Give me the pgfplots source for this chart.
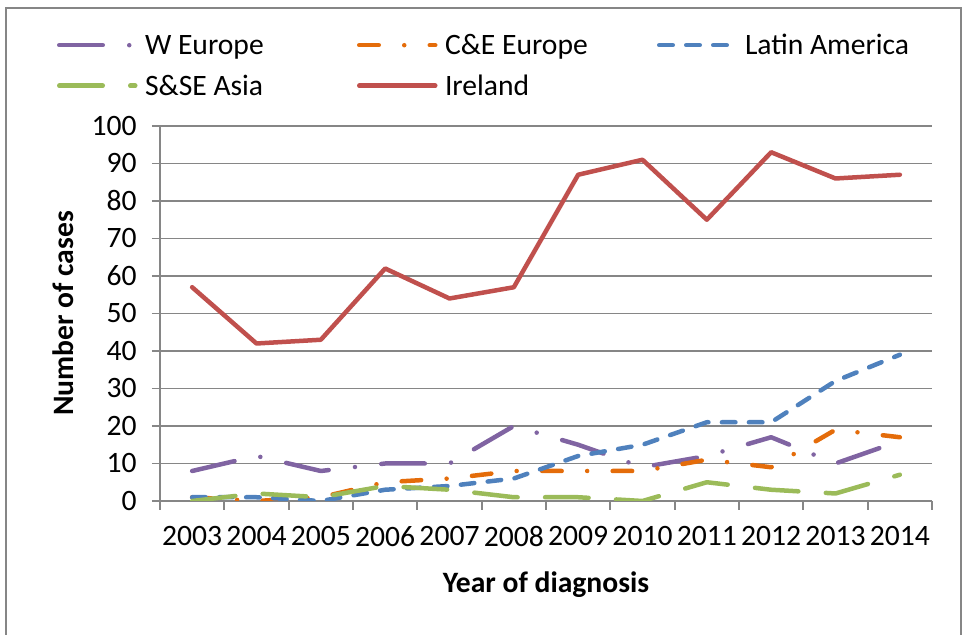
\documentclass[border=0pt]{standalone}
\usepackage{pgfplots}
\pgfplotsset{compat=1.18}
\usepackage{fontspec}
\setmainfont{Carlito}
\definecolor{cpurple}{HTML}{8064A2}
\definecolor{corange}{HTML}{E46C0A}
\definecolor{cblue}{HTML}{4F81BD}
\definecolor{cgreen}{HTML}{9BBB59}
\definecolor{cred}{HTML}{C0504D}
\definecolor{gridgray}{HTML}{868686}
\begin{document}
\fontsize{14.8pt}{17.8pt}\selectfont
\begin{tikzpicture}[x=1pt,y=1pt]
\useasboundingbox (-80,-67) rectangle (402.5,250.5);
\draw[color=gridgray, line width=0.75pt] (-77,-70) -- (-77,246.5) -- (400.5,246.5) -- (400.5,-70);
\begin{axis}[
  at={(0,0)}, anchor=south west,
  scale only axis, width=386pt, height=187.5pt,
  xmin=-0.5, xmax=11.5, ymin=0, ymax=100,
  separate axis lines,
  axis x line*=bottom, axis y line*=left,
  axis line style={-, draw=gridgray, line width=0.9pt},
  ytick={0,10,...,100},
  ymajorgrids, grid style={draw=gridgray, line width=0.9pt},
  xtick={0,...,11},
  xticklabels={2003,2004,2005,2006,2007,2008,2009,2010,2011,2012,2013,2014},
  minor xtick={-0.5,0.5,...,11.5},
  tick align=outside,
  major tick length=4pt,
  minor tick length=4.5pt,
  tick style={draw=gridgray, line width=0.9pt},
  major x tick style={draw=none},
  /pgf/number format/assume math mode=true,
  tick label style={font=\fontsize{14.8pt}{17.8pt}\selectfont, inner sep=0pt},
  yticklabel style={xshift=-7.5pt},
  xticklabel style={yshift=-8.5pt},
  xlabel={\bfseries Year of diagnosis},
  ylabel={\bfseries Number of cases},
  every axis x label/.style={at={(rel axis cs:0.5,-0.2427)}, anchor=base, font=\fontsize{14.8pt}{17.8pt}\selectfont},
  every axis y label/.style={at={(rel axis cs:-0.1256,0.5)}, rotate=90, anchor=center, font=\fontsize{14.8pt}{17.8pt}\selectfont},
  legend columns=3,
  legend style={at={(-0.1334,1.248)}, anchor=north west, draw=none, fill=none,
    inner sep=0pt, outer sep=0pt, row sep=7pt,
    font=\fontsize{14.8pt}{17.8pt}\selectfont,
    nodes={inner sep=0pt, outer sep=0pt},
    /tikz/every odd column/.append style={column sep=3.75pt},
    /tikz/every even column/.append style={column sep=6pt}},
  legend cell align=left,
  legend image code/.code={\draw[#1] (0pt,0.5pt) -- (38pt,0.5pt);},
  every axis plot/.append style={line width=2.25pt, line cap=round, line join=round},
]
\addplot[cpurple, dash pattern=on 21.75pt off 13.25pt on 0pt off 13.25pt] coordinates {
(0,8) (1,12) (2,8) (3,10) (4,10) (5,20) (6,15) (7,9) (8,12) (9,17) (10,10) (11,16)};
\addlegendentry{\makebox[100pt][l]{\rule[-3pt]{0pt}{14pt}W Europe}}
\addplot[corange, dash pattern=on 9.75pt off 12.75pt on 0pt off 12.75pt] coordinates {
(0,1) (1,0) (2,1) (3,5) (4,6) (5,8) (6,8) (7,8) (8,11) (9,9) (10,19) (11,17)};
\addlegendentry{\makebox[100pt][l]{\rule[-3pt]{0pt}{14pt}C\&E Europe}}
\addplot[cblue, dash pattern=on 6.75pt off 6.75pt] coordinates {
(0,1) (1,1) (2,0) (3,3) (4,4) (5,6) (6,12) (7,15) (8,21) (9,21) (10,32) (11,39)};
\addlegendentry{\rule[-3pt]{0pt}{14pt}Latin America}
\addplot[cgreen, dash pattern=on 21.75pt off 13.75pt] coordinates {
(0,0) (1,2) (2,1) (3,4) (4,3) (5,1) (6,1) (7,0) (8,5) (9,3) (10,2) (11,7)};
\addlegendentry{\makebox[100pt][l]{\rule[-3pt]{0pt}{14pt}S\&SE Asia}}
\addplot[cred] coordinates {
(0,57) (1,42) (2,43) (3,62) (4,54) (5,57) (6,87) (7,91) (8,75) (9,93) (10,86) (11,87)};
\addlegendentry{\makebox[100pt][l]{\rule[-3pt]{0pt}{14pt}Ireland}}
\end{axis}
\end{tikzpicture}
\end{document}
